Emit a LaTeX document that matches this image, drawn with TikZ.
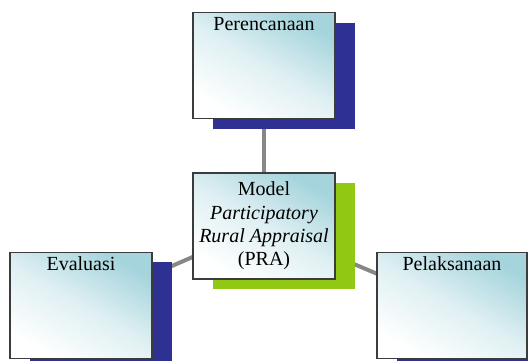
\documentclass[tikz,border=0pt]{standalone}
\usepackage{fontspec}
\setmainfont{Liberation Serif}
\usetikzlibrary{positioning}
\usetikzlibrary{shadows}
\usetikzlibrary{backgrounds}

\definecolor{navyshadow}{RGB}{46,49,146}
\definecolor{limeshadow}{RGB}{145,200,20}
\definecolor{boxteal}{RGB}{165,212,220}
\definecolor{boxline}{RGB}{60,60,60}
\definecolor{linkgray}{RGB}{135,135,135}

\begin{document}
\begin{tikzpicture}[x=0.6pt, y=-0.6pt,
    box/.style={rectangle, draw=boxline, line width=0.7pt, top color=boxteal, bottom color=white,
        middle color=white!65!boxteal, shading angle=-30,
        minimum width=85.2pt, minimum height=63.6pt, inner sep=0pt, align=center,
        font=\fontsize{12}{14}\selectfont},
    toptext/.style={text height=10.8pt, text depth=52.8pt},
    flat shadow/.style={drop shadow={shadow xshift=12pt, shadow yshift=-6pt, opacity=1, fill=#1}},
    link/.style={draw=linkgray, line width=2.4pt}]
    \useasboundingbox (0,0) rectangle (528,361);

    \node[box, flat shadow=limeshadow] (model) at (264,226) {Model\\\textit{Participatory}\\\textit{Rural Appraisal}\\(PRA)};
    \node[box, toptext, flat shadow=navyshadow] (plan) [above=31.8pt of model] {Perencanaan};
    \node[box, toptext, flat shadow=navyshadow] (eval) at (81,305.5) {Evaluasi};
    \node[box, toptext, flat shadow=navyshadow, minimum width=90pt] (impl) at (452,305.5) {Pelaksanaan};

    \begin{pgfonlayer}{background}
        \draw[link] (plan.center) -- (model.center);
        \draw[link] (model.center) -- (eval.center);
        \draw[link] (model.center) -- (impl.center);
    \end{pgfonlayer}
\end{tikzpicture}
\end{document}
